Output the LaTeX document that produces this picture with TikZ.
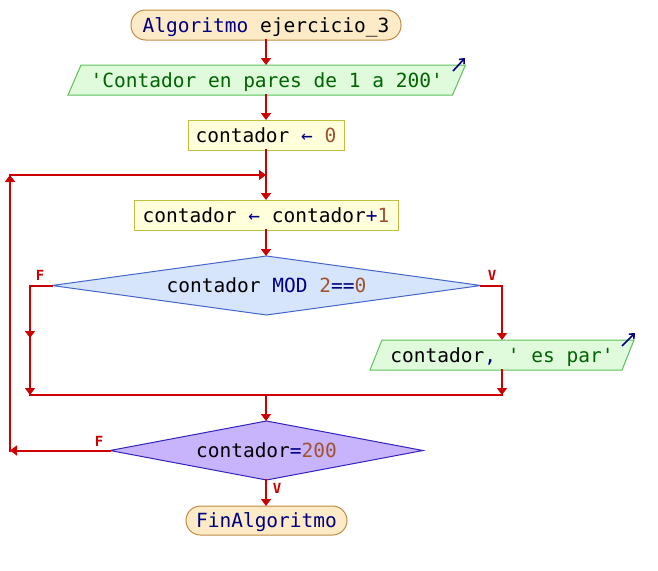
\documentclass[tikz,border=0pt]{standalone}
\usepackage{fontspec}
\setmonofont{DejaVu Sans Mono}
\usetikzlibrary{arrows.meta,backgrounds,calc}
\definecolor{flow}{HTML}{CC0000}
\definecolor{kw}{HTML}{000080}
\definecolor{num}{HTML}{A0522D}
\definecolor{str}{HTML}{006400}
\definecolor{termfill}{HTML}{FDEBC8}
\definecolor{termdraw}{HTML}{C08A40}
\definecolor{iofill}{HTML}{E0FADC}
\definecolor{iodraw}{HTML}{5CC05C}
\definecolor{asgfill}{HTML}{FFFFDC}
\definecolor{asgdraw}{HTML}{C0C040}
\definecolor{donefill}{HTML}{D6E4FC}
\definecolor{donedraw}{HTML}{4466CC}
\definecolor{dtwofill}{HTML}{C8B4FC}
\definecolor{dtwodraw}{HTML}{3322BB}
\begin{document}
\begin{tikzpicture}[x=1pt,y=-1pt,
  txt/.style={font=\ttfamily\fontsize{19.5}{22}\selectfont, inner sep=0pt, outer sep=0pt,
    text height=15pt, text depth=1pt, minimum height=30pt},
  term/.style={txt, draw=termdraw, fill=termfill, line width=1pt, rounded corners=14.5pt},
  asg/.style={txt, draw=asgdraw, fill=asgfill, line width=1pt},
  iopar/.style={draw=iodraw, fill=iofill, line width=1pt},
  flowline/.style={draw=flow, line width=2pt, line cap=rect},
  arr/.style={-{Triangle[width=10pt,length=7pt]}},
  icon/.style={draw=kw, line width=1.6pt, -{Straight Barb[length=4pt,width=7pt]}},
  lbl/.style={text=flow, inner sep=0pt, font=\ttfamily\bfseries\fontsize{14}{14}\selectfont}]
\useasboundingbox (0,0) rectangle (658,570);

% nodes
\node[term, minimum width=270pt] (start) at (266,25) {\textcolor{kw}{Algoritmo} ejercicio\_3};
\node[txt, minimum width=384.5pt] (out1) at (266.75,80) {\textcolor{str}{'Contador en pares de 1 a 200'}};
\node[asg, minimum width=156pt] (a0) at (266,135) {contador \textcolor{kw}{←} \textcolor{num}{0}};
\node[asg, minimum width=264pt] (a1) at (266,215) {contador \textcolor{kw}{←} contador\textcolor{kw}{+}\textcolor{num}{1}};
\node[txt, minimum width=429pt, minimum height=59pt] (d1) at (266.5,285.5) {contador \textcolor{kw}{MOD} \textcolor{num}{2}\textcolor{kw}{==}\textcolor{num}{0}};
\node[txt, minimum width=252pt] (out2) at (502,355) {contador\textcolor{kw}{,} \textcolor{str}{' es par'}};
\node[txt, minimum width=313pt, minimum height=59pt] (d2) at (266.5,450.5) {contador\textcolor{kw}{=}\textcolor{num}{200}};
\node[term, minimum width=161pt, minimum height=29pt] (end) at (266.5,520.5) {\textcolor{kw}{FinAlgoritmo}};

% shapes behind texts
\begin{scope}[on background layer]
\filldraw[iopar] ($(out1.south west)+(-6.5,0)$) -- ($(out1.north west)+(6.5,0)$)
  -- ($(out1.north east)+(6.5,0)$) -- ($(out1.south east)+(-6.5,0)$) -- cycle;
\filldraw[iopar] ($(out2.south west)+(-6,0)$) -- ($(out2.north west)+(6,0)$)
  -- ($(out2.north east)+(6,0)$) -- ($(out2.south east)+(-6,0)$) -- cycle;
\filldraw[draw=donedraw, fill=donefill, line width=1pt] (d1.west) -- (d1.north) -- (d1.east) -- (d1.south) -- cycle;
\filldraw[draw=dtwodraw, fill=dtwofill, line width=1pt] (d2.west) -- (d2.north) -- (d2.east) -- (d2.south) -- cycle;
\end{scope}

% output icons
\draw[icon] ($(out1.north east)+(-6,6)$) -- ($(out1.north east)+(6,-7)$);
\draw[icon] ($(out2.north east)+(-6,6)$) -- ($(out2.north east)+(7,-7)$);

% junction coordinates
\coordinate (j1) at (266,175);
\coordinate (fl) at (30,285.5);
\coordinate (flmid) at (30,338);
\coordinate (fm) at (30,395);
\coordinate (vr) at (502,285.5);
\coordinate (vm) at (502,395);
\coordinate (mm) at (266,395);
\coordinate (lb) at (10,450.5);
\coordinate (lt) at (10,175);

% connectors
\draw[flowline,arr] (start.south) -- (start.south |- out1.north);
\draw[flowline,arr] (a0.north |- out1.south) -- (a0.north);
\draw[flowline] (a0.south) -- (j1);
\draw[flowline,arr] (j1) -- (a1.north);
\draw[flowline,arr] (a1.south) -- (a1.south |- d1.north);
\draw[flowline] (d1.west) -- (fl);
\draw[flowline,arr] (fl) -- (flmid);
\draw[flowline,arr] (flmid) -- (fm);
\draw[flowline] (d1.east) -- (vr);
\draw[flowline,arr] (vr) -- (out2.north);
\draw[flowline,arr] (out2.south) -- (vm);
\draw[flowline] (fm) -- (vm);
\draw[flowline,arr] (mm) -- (mm |- d2.north);
\draw[flowline,arr] (d2.west) -- (lb);
\draw[flowline,arr] (lb) -- (lt);
\draw[flowline,arr] (lt) -- (j1);
\draw[flowline,arr] (mm |- d2.south) -- (mm |- end.north);

% branch labels
\node[lbl] (lf1) at (40,275) {F};
\node[lbl] (lv1) at (492,275) {V};
\node[lbl] (lf2) at (99,441) {F};
\node[lbl] (lv2) at (277,488) {V};
\end{tikzpicture}
\end{document}
